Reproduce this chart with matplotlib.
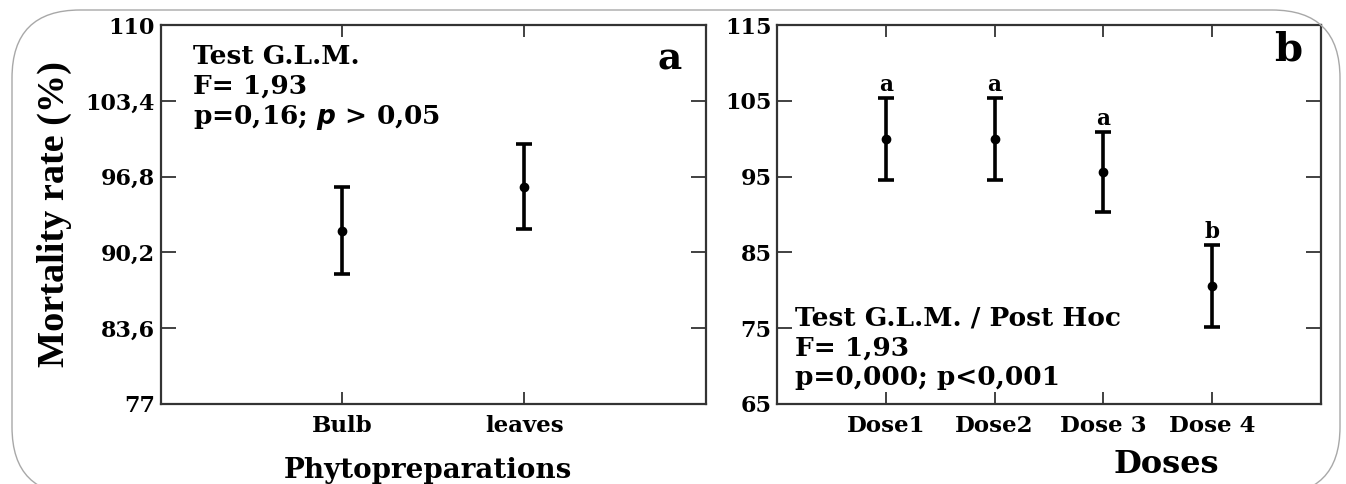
import numpy as np
import matplotlib.pyplot as plt
from matplotlib.patches import FancyBboxPatch
from matplotlib.transforms import IdentityTransform

# ---- panel a : phytopreparations ----
parts = ["Bulb", "leaves"]
parts_mean = [92.1, 95.9]
parts_err = [3.8, 3.7]
a_yticks = [77, 83.6, 90.2, 96.8, 103.4, 110]
a_ylabels = ["77", "83,6", "90,2", "96,8", "103,4", "110"]

# ---- panel b : doses ----
doses = ["Dose1", "Dose2", "Dose 3", "Dose 4"]
doses_mean = [100.0, 100.0, 95.6, 80.6]
doses_err = [5.4, 5.4, 5.3, 5.4]
doses_group = ["a", "a", "a", "b"]
b_yticks = [65, 75, 85, 95, 105, 115]

SERIF = "DejaVu Serif"
plt.rcParams["font.family"] = SERIF
plt.rcParams["font.weight"] = "bold"
plt.rcParams["axes.labelweight"] = "bold"

fig = plt.figure(figsize=(13.46, 4.84), dpi=100)
ax1 = fig.add_axes([0.1194, 0.1653, 0.4051, 0.7830])
ax2 = fig.add_axes([0.5773, 0.1653, 0.4041, 0.7830])

# rounded frame around the whole figure
frame = FancyBboxPatch((12, -11), 1328, 485, boxstyle="round,pad=0,rounding_size=68",
                       transform=IdentityTransform(), fill=False,
                       edgecolor="#a8a8a8", lw=1.0)
fig.patches.append(frame)

def style_axes(ax):
    for s in ax.spines.values():
        s.set_color("#333333")
        s.set_linewidth(1.6)
    ax.tick_params(axis="both", direction="in", top=True, right=True,
                   colors="#333333", width=1.3, labelcolor="black")
    ax.tick_params(axis="y", length=11, labelsize=16, pad=4)
    ax.tick_params(axis="x", length=8.5, labelsize=16.5, pad=8)

ebar_kw = dict(fmt="o", color="black", ms=6, elinewidth=2.6, capsize=5.5, capthick=2.6)

# panel a
x1 = np.arange(1, len(parts) + 1)
ax1.errorbar(x1, parts_mean, yerr=parts_err, **ebar_kw)
ax1.set_xlim(0, 3)
ax1.set_ylim(77, 110)
ax1.set_xticks(x1)
ax1.set_xticklabels(parts)
ax1.set_yticks(a_yticks)
ax1.set_yticklabels(a_ylabels)
style_axes(ax1)
ax1.set_xlabel("Phytopreparations", fontsize=20)
ax1.xaxis.set_label_coords(0.49, -0.14)
ax1.set_ylabel("Mortality rate (%)", fontsize=27.5, family="Liberation Serif",
               fontweight="bold")
ax1.yaxis.set_label_coords(-0.163, 0.5)
ax1.text(0.06, 0.95, "Test G.L.M.\nF= 1,93\np=0,16; $\\mathbfit{p}$ > 0,05",
         transform=ax1.transAxes, fontsize=19, va="top", ha="left",
         linespacing=1.22)
ax1.text(0.955, 0.96, "a", transform=ax1.transAxes, fontsize=27,
         va="top", ha="right")

# panel b
x2 = np.arange(1, len(doses) + 1)
ax2.errorbar(x2, doses_mean, yerr=doses_err, **ebar_kw)
for x, m, e, g in zip(x2, doses_mean, doses_err, doses_group):
    ax2.annotate(g, (x, m + e), xytext=(0, 5), textcoords="offset points",
                 ha="center", va="baseline", fontsize=15.5)
ax2.set_xlim(0, 5)
ax2.set_ylim(65, 115)
ax2.set_xticks(x2)
ax2.set_xticklabels(doses)
ax2.set_yticks(b_yticks)
style_axes(ax2)
ax2.set_xlabel("Doses", fontsize=23)
ax2.xaxis.set_label_coords(0.715, -0.12)
ax2.text(0.033, 0.26, "Test G.L.M. / Post Hoc\nF= 1,93\np=0,000; p<0,001",
         transform=ax2.transAxes, fontsize=19, va="top", ha="left",
         linespacing=1.25)
ax2.text(0.965, 0.985, "b", transform=ax2.transAxes, fontsize=29,
         va="top", ha="right")

fig.savefig("out.png", dpi=100)
